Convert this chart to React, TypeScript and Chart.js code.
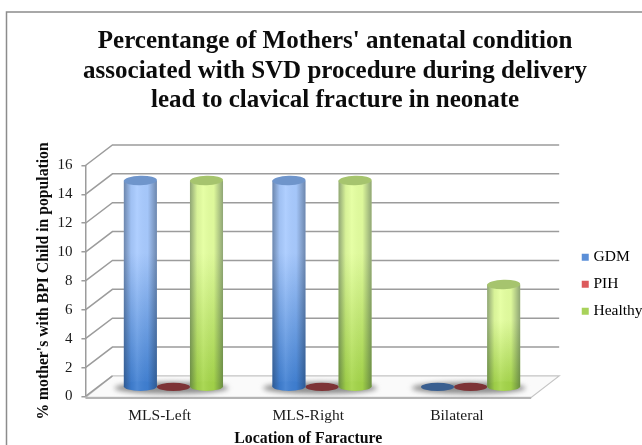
import React, { useEffect, useRef } from "react";
import { Chart, registerables } from "chart.js";

Chart.register(...registerables);

const categories = ["MLS-Left", "MLS-Right", "Bilateral"];
const gdm = [14.3, 14.3, 0];
const pih = [0, 0, 0];
const healthy = [14.3, 14.3, 7.1];
const titleLines = [
  "Percentange of Mothers' antenatal condition",
  "associated with SVD procedure during delivery",
  "lead to clavical fracture in neonate",
];
const yTitle = "% mother's with BPI Child in population";
const xTitle = "Location of Faracture";

const serif = "'Liberation Serif'";
const GRID = "#9c9c9c";
const DEPTH_X = 27;
const DEPTH_Y = 20.5;
const BAR_DX = 13.7;
const BAR_DY = -9.5;
const RY = 4.8;

const styles = [
  { name: "GDM", light: "#a9cbff", dark: "#3f7fd2", cap: "#6f95cb", flat: "#3a5f90", swatch: "#5b8fd8" },
  { name: "PIH", light: "#ff9c9a", dark: "#c94a48", cap: "#a85a58", flat: "#7d3336", swatch: "#dc5a5c" },
  { name: "Healthy", light: "#e4ff9e", dark: "#a4d548", cap: "#a6c46e", flat: "#7d9a40", swatch: "#a8d25a" },
];

function bodyFill(i: number) {
  return (c: any) => {
    const ys = c.chart.scales.y;
    const v = c.parsed ? c.parsed.y : 0;
    const g = c.chart.ctx.createLinearGradient(0, ys.getPixelForValue(Math.max(v, 1)), 0, ys.getPixelForValue(0));
    g.addColorStop(0, styles[i].light);
    g.addColorStop(0.35, styles[i].light);
    g.addColorStop(1, styles[i].dark);
    return g;
  };
}

const threeD = {
  id: "threeD",
  afterLayout(chart: any) {
    const l = chart.legend;
    const h = l.bottom - l.top;
    const w = l.right - l.left;
    l.left = 573.25;
    l.right = 573.25 + w;
    l.top = 238;
    l.bottom = 238 + h;
    l.adjustHitBoxes();
    chart.titleBlock.left += 12.5;
    chart.titleBlock.right += 12.5;
  },
  beforeDraw(chart: any) {
    const ctx = chart.ctx;
    ctx.save();
    ctx.strokeStyle = "#8c8c8c";
    ctx.lineWidth = 1.5;
    ctx.strokeRect(6.5, 12, 660, 460);
    ctx.restore();
  },
  beforeDatasetsDraw(chart: any) {
    const ctx = chart.ctx;
    const ys = chart.scales.y;
    const { left, right } = chart.chartArea;
    const y0 = ys.getPixelForValue(0);
    ctx.save();
    ctx.fillStyle = "#fafafa";
    ctx.beginPath();
    ctx.moveTo(left, y0 + 1);
    ctx.lineTo(right, y0 + 1);
    ctx.lineTo(right + DEPTH_X + 1, y0 - DEPTH_Y);
    ctx.lineTo(left + DEPTH_X, y0 - DEPTH_Y);
    ctx.closePath();
    ctx.fill();
    ctx.strokeStyle = "#c4c4c4";
    ctx.lineWidth = 1.2;
    ctx.stroke();
    ctx.strokeStyle = GRID;
    ctx.lineWidth = 1.5;
    ys.ticks.forEach((t: any) => {
      const p = ys.getPixelForValue(t.value);
      ctx.beginPath();
      ctx.moveTo(left, p);
      ctx.lineTo(left + DEPTH_X, p - DEPTH_Y);
      if (t.value > 0) ctx.lineTo(right + DEPTH_X + 1, p - DEPTH_Y);
      ctx.stroke();
    });
    ctx.strokeStyle = "#b4b4b4";
    ctx.lineWidth = 2;
    ctx.beginPath();
    ctx.moveTo(left, y0 + 1.5);
    ctx.lineTo(right, y0 + 1.5);
    ctx.stroke();
    // floor shadows under each group
    const mid = chart.getDatasetMeta(1).data;
    ctx.filter = "blur(2.5px)";
    ctx.fillStyle = "#8e8e8e";
    mid.forEach((el: any) => {
      ctx.beginPath();
      ctx.ellipse(el.x + BAR_DX - 2, y0 + BAR_DY + 1, el.width * 1.72, 6, 0, 0, Math.PI * 2);
      ctx.fill();
    });
    ctx.restore();
  },
  beforeDatasetDraw(chart: any) {
    chart.ctx.save();
    chart.ctx.translate(BAR_DX, BAR_DY);
  },
  afterDatasetDraw(chart: any, args: any) {
    const ctx = chart.ctx;
    const st = styles[args.index];
    args.meta.data.forEach((el: any) => {
      const l = el.x - el.width / 2;
      const r = el.x + el.width / 2;
      const rx = el.width / 2;
      if (Math.abs(el.base - el.y) < 0.5) {
        ctx.fillStyle = st.flat;
        ctx.beginPath();
        ctx.ellipse(el.x, el.base, rx, RY * 0.85, 0, 0, Math.PI * 2);
        ctx.fill();
        return;
      }
      ctx.fillStyle = st.dark;
      ctx.beginPath();
      ctx.ellipse(el.x, el.base, rx, RY, 0, 0, Math.PI * 2);
      ctx.fill();
      const g = ctx.createLinearGradient(l, 0, r, 0);
      g.addColorStop(0, "rgba(25,40,60,0.42)");
      g.addColorStop(0.22, "rgba(25,40,60,0.06)");
      g.addColorStop(0.4, "rgba(255,255,255,0.08)");
      g.addColorStop(0.72, "rgba(25,40,60,0.03)");
      g.addColorStop(1, "rgba(25,40,60,0.42)");
      ctx.fillStyle = g;
      ctx.beginPath();
      ctx.moveTo(l, el.y);
      ctx.lineTo(l, el.base);
      ctx.ellipse(el.x, el.base, rx, RY, 0, Math.PI, 0, true);
      ctx.lineTo(r, el.y);
      ctx.closePath();
      ctx.fill();
      ctx.fillStyle = st.cap;
      ctx.beginPath();
      ctx.ellipse(el.x, el.y, rx, RY, -0.03, 0, Math.PI * 2);
      ctx.fill();
    });
    ctx.restore();
  },
  afterDraw(chart: any) {
    const ctx = chart.ctx;
    chart.legend.legendHitBoxes.forEach((b: any) => {
      const g = ctx.createLinearGradient(0, b.top + 4, 0, b.top + 11);
      g.addColorStop(0, "rgba(255,255,255,0.35)");
      g.addColorStop(1, "rgba(255,255,255,0)");
      ctx.fillStyle = g;
      ctx.fillRect(b.left - 3, b.top + 4.25, 7, 7);
    });
  },
};

export default function App() {
  const ref = useRef<HTMLCanvasElement>(null);
  useEffect(() => {
    document.body.style.margin = "0";
    const chart = new Chart(ref.current!, {
      type: "bar",
      data: {
        labels: categories,
        datasets: [
          { label: styles[0].name, data: gdm, backgroundColor: bodyFill(0), clip: false },
          { label: styles[1].name, data: pih, backgroundColor: bodyFill(1), clip: false },
          { label: styles[2].name, data: healthy, backgroundColor: bodyFill(2), clip: false },
        ] as any,
      },
      options: {
        animation: false,
        responsive: false,
        layout: { padding: { left: 34.6, right: 31.5, top: 0, bottom: 0 } },
        datasets: { bar: { barPercentage: 1, categoryPercentage: 0.6676 } },
        plugins: {
          tooltip: { enabled: false },
          title: {
            display: true,
            text: titleLines,
            color: "#0c0c0c",
            font: { family: serif, size: 25, weight: "bold", lineHeight: 1.18 },
            padding: { top: 27, bottom: 50 },
          },
          legend: {
            position: "right",
            align: "start",
            labels: {
              font: { family: serif, size: 15.5 },
              color: "#1a1a1a",
              boxWidth: 1,
              boxHeight: 1,
              padding: 11.5,
              generateLabels: () =>
                styles.map((s, i) => ({
                  text: s.name,
                  fillStyle: s.swatch,
                  strokeStyle: s.swatch,
                  lineWidth: 6,
                  datasetIndex: i,
                })),
            },
          },
        },
        scales: {
          x: {
            grid: { display: false, drawTicks: false, tickLength: 0 },
            border: { display: false },
            ticks: { color: "#1a1a1a", font: { family: serif, size: 15.5 }, padding: 10.5, maxRotation: 0 },
            title: {
              display: true,
              text: xTitle,
              color: "#0c0c0c",
              font: { family: serif, size: 15.8, weight: "bold" },
              padding: { top: -7, bottom: -3 },
            },
          },
          y: {
            min: 0,
            max: 16,
            grid: { drawOnChartArea: false, tickLength: 4, color: GRID, lineWidth: 1.5 },
            border: { color: GRID, width: 1.5 },
            ticks: { stepSize: 2, color: "#1a1a1a", font: { family: serif, size: 15 }, padding: 9 },
            title: {
              display: true,
              text: yTitle,
              color: "#0c0c0c",
              font: { family: serif, size: 15.7, weight: "bold" },
              padding: { top: 0, bottom: -5 },
            },
          },
        },
      },
      plugins: [threeD],
    } as any);
    return () => chart.destroy();
  }, []);
  return <canvas ref={ref} width={642} height={445} style={{ display: "block" }} />;
}
